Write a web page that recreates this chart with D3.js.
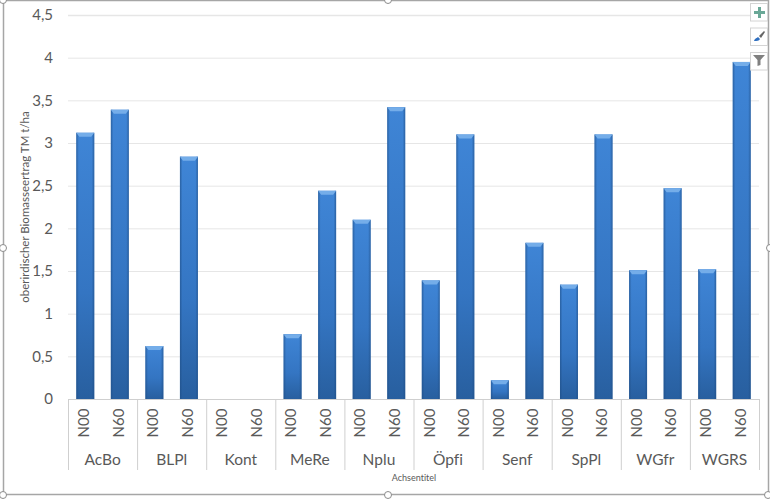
<!DOCTYPE html>
<html>
<head>
<meta charset="utf-8">
<script src="https://cdn.jsdelivr.net/npm/d3@7"></script>
<style>
html,body{margin:0;padding:0;background:#fff;}
svg{display:block;font-family:Lato,"Open Sans",sans-serif;font-variant-ligatures:none;}
</style>
</head>
<body>
<svg id="chart" width="770" height="499"></svg>
<script>
const groups = ["AcBo","BLPl","Kont","MeRe","Nplu","Öpfi","Senf","SpPl","WGfr","WGRS"];
const levels = ["N00","N60"];
const n00 = [3.12,0.62,0,0.76,2.10,1.39,0.22,1.34,1.51,1.52];
const n60 = [3.39,2.84,0,2.44,3.42,3.10,1.83,3.10,2.47,3.95];
const yTicks = [0,0.5,1,1.5,2,2.5,3,3.5,4,4.5];
const yLabel = "oberirdischer Biomasseertrag TM t/ha";
const xLabel = "Achsentitel";

const svg = d3.select("#chart");
const textCol = "#595959", gridCol = "#e6e6e6", axisCol = "#cfcfcf";
const plotL = 68, plotR = 759, plotT = 15, plotB = 399, axisB = 470;

const y = d3.scaleLinear().domain([0,4.5]).range([plotB,plotT]);
const x0 = d3.scaleBand().domain(groups).range([plotL,plotR]);
const x1 = d3.scaleBand().domain(levels).range([0,x0.bandwidth()]).paddingInner(0.48).paddingOuter(0.24);
const fmt = d => String(d).replace(".",",");

// bar fill: vertical shade plus darker side edges
const defs = svg.append("defs");
const grad = defs.append("linearGradient").attr("id","barFill").attr("x1",0).attr("x2",0).attr("y1",0).attr("y2",1);
grad.append("stop").attr("offset","0%").attr("stop-color","#3f85d6");
grad.append("stop").attr("offset","60%").attr("stop-color","#3475c2");
grad.append("stop").attr("offset","100%").attr("stop-color","#285f9f");
const side = defs.append("linearGradient").attr("id","barSide");
side.append("stop").attr("offset","0%").attr("stop-color","#1f4e86").attr("stop-opacity",0.65);
side.append("stop").attr("offset","14%").attr("stop-color","#1f4e86").attr("stop-opacity",0);
side.append("stop").attr("offset","86%").attr("stop-color","#1f4e86").attr("stop-opacity",0);
side.append("stop").attr("offset","100%").attr("stop-color","#1f4e86").attr("stop-opacity",0.65);

// selection frame
svg.append("rect").attr("x",3.5).attr("y",0.5).attr("width",765).attr("height",494)
    .attr("fill","none").attr("stroke","#a6a6a6").attr("stroke-width",1.5);
[[3,0],[388,0],[3,248],[770,248],[3,495],[388,495],[768,495]].forEach(p=>{
    svg.append("circle").attr("cx",p[0]).attr("cy",p[1]).attr("r",3.5)
        .attr("fill","#fff").attr("stroke","#8c8c8c");
});

// grid
svg.append("g").selectAll("line").data(yTicks.filter(d=>d>0)).join("line")
    .attr("x1",plotL).attr("x2",plotR)
    .attr("y1",d=>y(d)+0.5).attr("y2",d=>y(d)+0.5)
    .attr("stroke",gridCol).attr("stroke-width",d=>d===4.5?1.5:1);

// y axis via d3.axisLeft, no domain or tick marks
const yAxis = svg.append("g").attr("transform",`translate(${plotL-12},0)`)
    .call(d3.axisLeft(y).tickValues(yTicks).tickFormat(fmt).tickSize(0));
yAxis.select(".domain").remove();
yAxis.selectAll("text").attr("font-size",15).attr("font-family","Lato").attr("fill",textCol);

svg.append("text").attr("transform","translate(26,207) rotate(-90)")
    .attr("text-anchor","middle").attr("dominant-baseline","middle")
    .attr("font-size",11.5).attr("fill",textCol).text(yLabel);

// bars
const rows = groups.flatMap((g,i)=>[
    {g,l:"N00",v:n00[i]},
    {g,l:"N60",v:n60[i]}
]);
const bars = svg.append("g").selectAll("g").data(rows.filter(d=>d.v>0)).join("g")
    .attr("transform",d=>`translate(${x0(d.g)+x1(d.l)},${y(d.v)})`);
bars.append("rect")
    .attr("width",x1.bandwidth()).attr("height",d=>y(0)-y(d.v))
    .attr("fill","url(#barFill)");
bars.append("rect")
    .attr("width",x1.bandwidth()).attr("height",d=>y(0)-y(d.v))
    .attr("fill","url(#barSide)");
// bevel on the top of each bar
bars.append("path")
    .attr("d",`M0,0H${x1.bandwidth()}L${x1.bandwidth()-3},4H3Z`)
    .attr("fill","#74ade9");

// category axis
const cat = svg.append("g").attr("fill",textCol);
const bounds = groups.map(g=>x0(g)).concat([plotR]);
cat.selectAll("line.sep").data(bounds).join("line")
    .attr("class","sep")
    .attr("x1",d=>d+0.5).attr("x2",d=>d+0.5)
    .attr("y1",plotB).attr("y2",axisB).attr("stroke",axisCol);
cat.append("line").attr("x1",plotL).attr("x2",plotR)
    .attr("y1",plotB+0.5).attr("y2",plotB+0.5).attr("stroke",axisCol);
cat.selectAll("text.lvl").data(rows).join("text")
    .attr("class","lvl")
    .attr("transform",d=>`translate(${x0(d.g)+x1(d.l)+x1.bandwidth()/2},423) rotate(-90)`)
    .attr("text-anchor","middle").attr("dominant-baseline","middle")
    .attr("font-size",15).text(d=>d.l);
cat.selectAll("text.grp").data(groups).join("text")
    .attr("class","grp")
    .attr("x",d=>x0(d)+x0.bandwidth()/2).attr("y",465)
    .attr("text-anchor","middle").attr("font-size",15.5).text(d=>d);

svg.append("text").attr("x",414).attr("y",481).attr("text-anchor","middle")
    .attr("font-size",9).attr("fill",textCol).text(xLabel);

// chart tool buttons on the right
const btn = svg.append("g");
[0,1,2].forEach(i=>{
    btn.append("rect").attr("x",750.5).attr("y",3.5+i*24.5).attr("width",17).attr("height",17.5)
        .attr("fill","#fff").attr("stroke","#d4d4d4");
});
btn.append("path").attr("d","M758,7h3v4h4v3h-4v4h-3v-4h-4v-3h4z").attr("fill","#6aa897");
btn.append("path").attr("d","M754,41c1,-3 3,-3 4,-4l2,2c-1,2 -3,2 -6,2z").attr("fill","#2f6fc0");
btn.append("path").attr("d","M759,36l5,-5l1,1l-4,6z").attr("fill","#666");
btn.append("path").attr("d","M753,55h12l-4.500,5v5l-3,1v-6z").attr("fill","#808080");
</script>
</body>
</html>
